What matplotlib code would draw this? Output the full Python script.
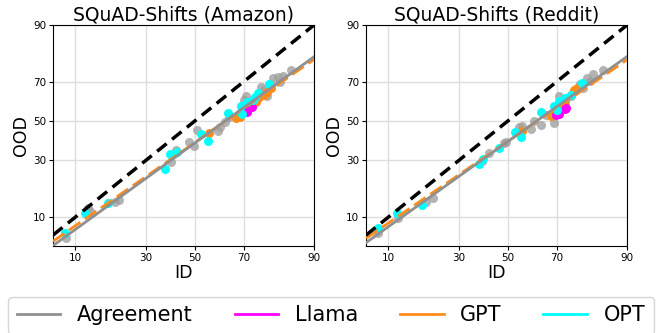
import math
import numpy as np
import matplotlib
matplotlib.use("Agg")
import matplotlib.pyplot as plt
from matplotlib.lines import Line2D

# accuracies in percent (ID, OOD)
amazon_agree_id = [8.4, 12.5, 13.0, 19.5, 20.8, 40.0, 42.2, 47.5, 49.7, 51.0, 60.0, 60.6, 62.6, 64.3,
                   68.6, 70.3, 71.0, 73.0, 75.0, 76.0, 77.0, 78.0, 79.0, 80.0, 81.5, 82.0, 82.8, 85.0]
amazon_agree_ood = [6.0, 12.2, 11.6, 14.0, 14.6, 29.2, 34.9, 38.9, 37.0, 45.3, 44.6, 47.0, 49.6, 52.0,
                    54.0, 61.0, 63.0, 60.0, 62.0, 67.3, 66.0, 63.0, 69.0, 71.7, 72.2, 70.0, 72.5, 75.2]
amazon_llama_id = [71.2, 71.8, 72.4, 73.0]
amazon_llama_ood = [55.0, 56.7, 58.3, 57.5]
amazon_gpt_id = [56.0, 67.0, 68.6, 70.5, 72.0, 74.5, 75.5, 77.0, 78.0, 79.5]
amazon_gpt_ood = [43.5, 51.5, 52.3, 55.5, 58.0, 60.2, 62.5, 63.5, 65.2, 67.0]
amazon_opt_id = [8.2, 12.0, 17.5, 37.6, 39.7, 42.6, 52.6, 55.8, 64.0, 69.2, 69.5, 71.1, 73.5, 74.2, 75.3, 78.8]
amazon_opt_ood = [6.7, 11.1, 13.8, 26.1, 32.8, 33.8, 43.1, 39.6, 54.4, 58.1, 53.7, 60.2, 61.0, 62.5, 64.7, 68.9]

reddit_agree_id = [8.1, 12.0, 19.0, 21.1, 39.0, 42.2, 48.5, 49.3, 55.0, 56.0, 59.9, 61.2, 64.0, 66.0,
                   69.2, 71.0, 73.0, 75.0, 76.0, 78.0, 79.0, 80.1, 81.0, 82.1, 84.6]
reddit_agree_ood = [6.7, 9.9, 14.0, 15.2, 29.5, 33.4, 38.5, 39.1, 46.9, 47.5, 46.0, 50.0, 47.9, 53.0,
                    48.8, 62.9, 58.5, 63.0, 65.5, 69.0, 67.2, 71.6, 70.5, 73.5, 75.2]
reddit_llama_id = [69.9, 71.0, 72.9, 73.5]
reddit_llama_ood = [53.0, 53.5, 56.4, 56.9]
reddit_gpt_id = [56.0, 67.9, 69.0, 71.6, 73.0, 75.0, 76.0, 77.0]
reddit_gpt_ood = [44.5, 52.6, 54.5, 57.8, 60.5, 63.7, 66.1, 67.0]
reddit_opt_id = [8.2, 11.7, 17.8, 37.8, 39.4, 46.4, 52.9, 55.7, 64.0, 69.2, 70.0, 71.0, 72.9, 75.2, 78.8]
reddit_opt_ood = [7.6, 11.0, 13.0, 28.2, 30.8, 36.0, 44.4, 41.7, 54.7, 58.2, 56.0, 60.7, 62.0, 63.7, 69.3]

# linear fits in probit space: (slope, intercept)
amazon_agree_fit = (0.899, -0.294)
amazon_gpt_fit = (0.866, -0.287)
reddit_agree_fit = (0.886, -0.274)
reddit_gpt_fit = (0.850, -0.271)

ticks = [10, 30, 50, 70, 90]

_erf = np.vectorize(math.erf, otypes=[float])


def phi(z):
    return 0.5 * (1.0 + _erf(np.asarray(z, dtype=float) / math.sqrt(2.0)))


def probit(pct):
    p = np.clip(np.asarray(pct, dtype=float) / 100.0, 1e-9, 1 - 1e-9)
    lo = np.full(p.shape, -8.0)
    hi = np.full(p.shape, 8.0)
    for _ in range(60):
        mid = 0.5 * (lo + hi)
        below = phi(mid) < p
        lo = np.where(below, mid, lo)
        hi = np.where(below, hi, mid)
    return 0.5 * (lo + hi)


def inv_probit(z):
    return phi(z) * 100.0


GRAY = "#909090"
MAGENTA = "#ff00ff"
ORANGE = "#ff8c1a"
CYAN = "#00ffff"

fig = plt.figure(figsize=(6.56, 3.33), dpi=100)
ax1 = fig.add_axes([0.0808, 0.261, 0.398, 0.664])
ax2 = fig.add_axes([0.558, 0.261, 0.398, 0.664])

panels = [
    (ax1, "SQuAD-Shifts (Amazon)", amazon_agree_id, amazon_agree_ood, amazon_llama_id, amazon_llama_ood,
     amazon_gpt_id, amazon_gpt_ood, amazon_opt_id, amazon_opt_ood, amazon_agree_fit, amazon_gpt_fit),
    (ax2, "SQuAD-Shifts (Reddit)", reddit_agree_id, reddit_agree_ood, reddit_llama_id, reddit_llama_ood,
     reddit_gpt_id, reddit_gpt_ood, reddit_opt_id, reddit_opt_ood, reddit_agree_fit, reddit_gpt_fit),
]

xlo, xhi = 6.4, 90
ylo, yhi = 4.76, 90

for (ax, title, ag_x, ag_y, ll_x, ll_y, gp_x, gp_y, op_x, op_y, ag_fit, gp_fit) in panels:
    ax.set_xscale("function", functions=(probit, inv_probit))
    ax.set_yscale("function", functions=(probit, inv_probit))

    ax.scatter(ag_x, ag_y, s=42, color="#a0a0a0", alpha=0.8, linewidths=0, zorder=2)
    ax.scatter(gp_x, gp_y, s=42, color=ORANGE, linewidths=0, zorder=3)
    ax.scatter(ll_x, ll_y, s=42, color=MAGENTA, linewidths=0, zorder=4)
    ax.scatter(op_x, op_y, s=42, color=CYAN, linewidths=0, zorder=5)

    xs = np.linspace(xlo, xhi, 120)
    zx = probit(xs)
    ax.plot(xs, inv_probit(gp_fit[0] * zx + gp_fit[1]), color=ORANGE, lw=2, ls=(0, (5, 2)), zorder=6)
    ax.plot(xs, inv_probit(ag_fit[0] * zx + ag_fit[1]), color=GRAY, lw=2, zorder=7)
    ax.plot([xlo, xhi], [xlo, xhi], color="black", lw=2.5, ls=(0, (3.5, 2)), zorder=8)

    ax.set_xlim(xlo, xhi)
    ax.set_ylim(ylo, yhi)
    ax.set_xticks(ticks)
    ax.set_yticks(ticks)
    ax.set_xticklabels([str(t) for t in ticks])
    ax.set_yticklabels([str(t) for t in ticks])
    ax.minorticks_off()
    ax.tick_params(labelsize=7.5, length=3, pad=2)
    ax.grid(True, color="#dddddd", lw=1)
    ax.set_axisbelow(True)
    ax.set_title(title, fontsize=13.5, pad=3)
    ax.set_xlabel("ID", fontsize=12.5, labelpad=1)
    ax.set_ylabel("OOD", fontsize=12.5, labelpad=2)

handles = [Line2D([], [], color=GRAY, lw=2),
           Line2D([], [], color=MAGENTA, lw=2),
           Line2D([], [], color=ORANGE, lw=2),
           Line2D([], [], color=CYAN, lw=2)]
fig.legend(handles, ["Agreement", "Llama", "GPT", "OPT"], loc="upper left",
           bbox_to_anchor=(0.0128, 0.108), bbox_transform=fig.transFigure,
           ncol=4, fontsize=15, handlelength=2.1, columnspacing=2.0,
           borderaxespad=0, frameon=True)

fig.savefig("out.png", dpi=100)
